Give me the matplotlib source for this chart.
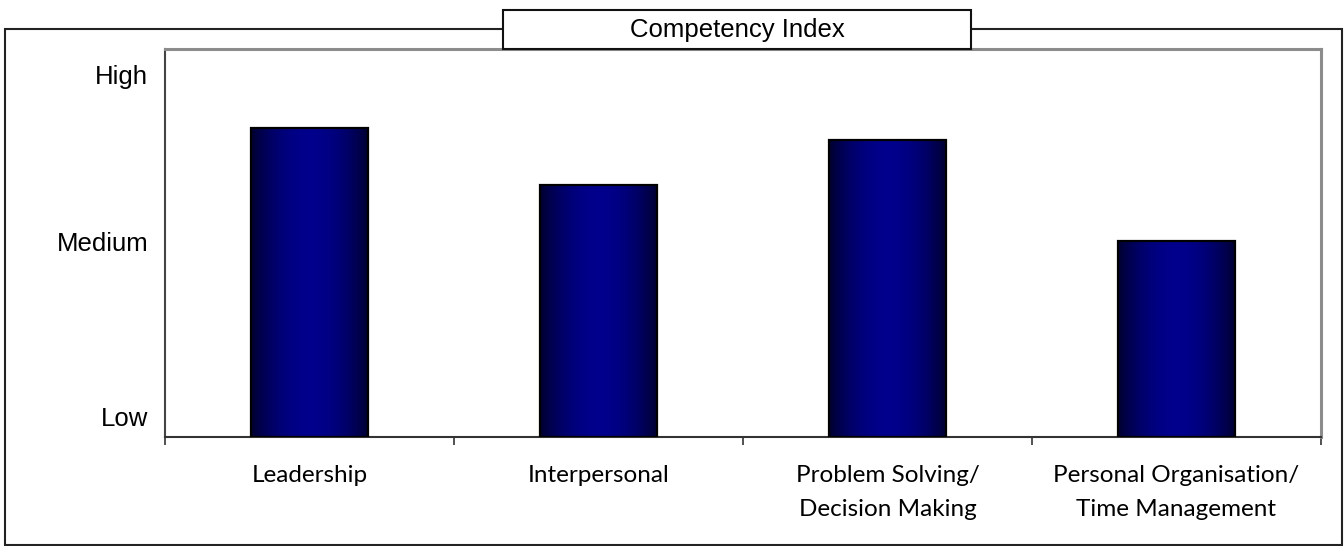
import matplotlib
matplotlib.use("Agg")
import matplotlib.pyplot as plt
from matplotlib.patches import Rectangle
import numpy as np

# Data (scale 0-10)
categories = ["Leadership", "Interpersonal", "Problem Solving/\nDecision Making",
              "Personal Organisation/\nTime Management"]
scores = [7.96, 6.51, 7.67, 5.06]
level_labels = ["Low", "Medium", "High"]
level_positions = [0.52, 5.03, 9.34]
title = "Competency Index"

W, H = 1344, 546
fig = plt.figure(figsize=(W / 100, H / 100), dpi=100)
fig.patch.set_facecolor("white")

def fx(px):
    return px / W

def fy(py):
    return 1 - py / H

# outer frame
fig.patches.append(Rectangle((fx(5), fy(545)), fx(1342) - fx(5), fy(29) - fy(545),
                             transform=fig.transFigure, fill=False,
                             edgecolor="#222222", linewidth=1.5, zorder=0))

ax = fig.add_axes([fx(165), fy(437), fx(1321) - fx(165), fy(49.3) - fy(437)])
ax.set_xlim(-0.5, len(categories) - 0.5)
ax.set_ylim(0, 10)

# gradient bars: dark edges, bright navy centre
t = np.linspace(0, 1, 256)
g = np.sin(np.pi * t) ** 0.8
grad = np.zeros((1, 256, 3))
grad[0, :, 2] = 0.17 + 0.38 * g
bar_w = 0.408
bars = ax.bar(range(len(categories)), scores, width=bar_w, color="none",
              edgecolor="black", linewidth=1.6, zorder=3)
for b in bars:
    x0, y0 = b.get_x(), b.get_y()
    im = ax.imshow(grad, extent=[x0, x0 + b.get_width(), y0, y0 + b.get_height()],
                   aspect="auto", interpolation="bicubic", zorder=2)
    im.set_clip_path(b)

# spines
ax.spines["left"].set_color("#444444")
ax.spines["left"].set_linewidth(1.5)
ax.spines["bottom"].set_color("#333333")
ax.spines["bottom"].set_linewidth(1.5)
for s in ("top", "right"):
    ax.spines[s].set_color("#8c8c8c")
    ax.spines[s].set_linewidth(2.2)

# x ticks at category boundaries, labels at centres
ax.set_xticks(np.arange(-0.5, len(categories)))
ax.set_xticklabels([])
ax.tick_params(axis="x", which="major", length=6, width=1.2, color="#333333", direction="out")
ax.set_xticks(range(len(categories)), minor=True)
ax.set_xticklabels(categories, minor=True, fontsize=17.5, family="Lato",
                   linespacing=1.8, va="top")
ax.tick_params(axis="x", which="minor", length=0, pad=20)

ax.set_yticks(level_positions)
ax.set_yticklabels(level_labels, fontsize=18.5, family="Liberation Sans")
ax.tick_params(axis="y", length=0, pad=12)

# title box
fig.patches.append(Rectangle((fx(503), fy(49)), fx(971) - fx(503), fy(10) - fy(49),
                             transform=fig.transFigure, facecolor="white",
                             edgecolor="#111111", linewidth=1.5, zorder=5))
fig.text(fx(737), fy(30), title, ha="center", va="center", fontsize=18.5,
         family="Liberation Sans", zorder=6)

fig.savefig("out.png", dpi=100)
